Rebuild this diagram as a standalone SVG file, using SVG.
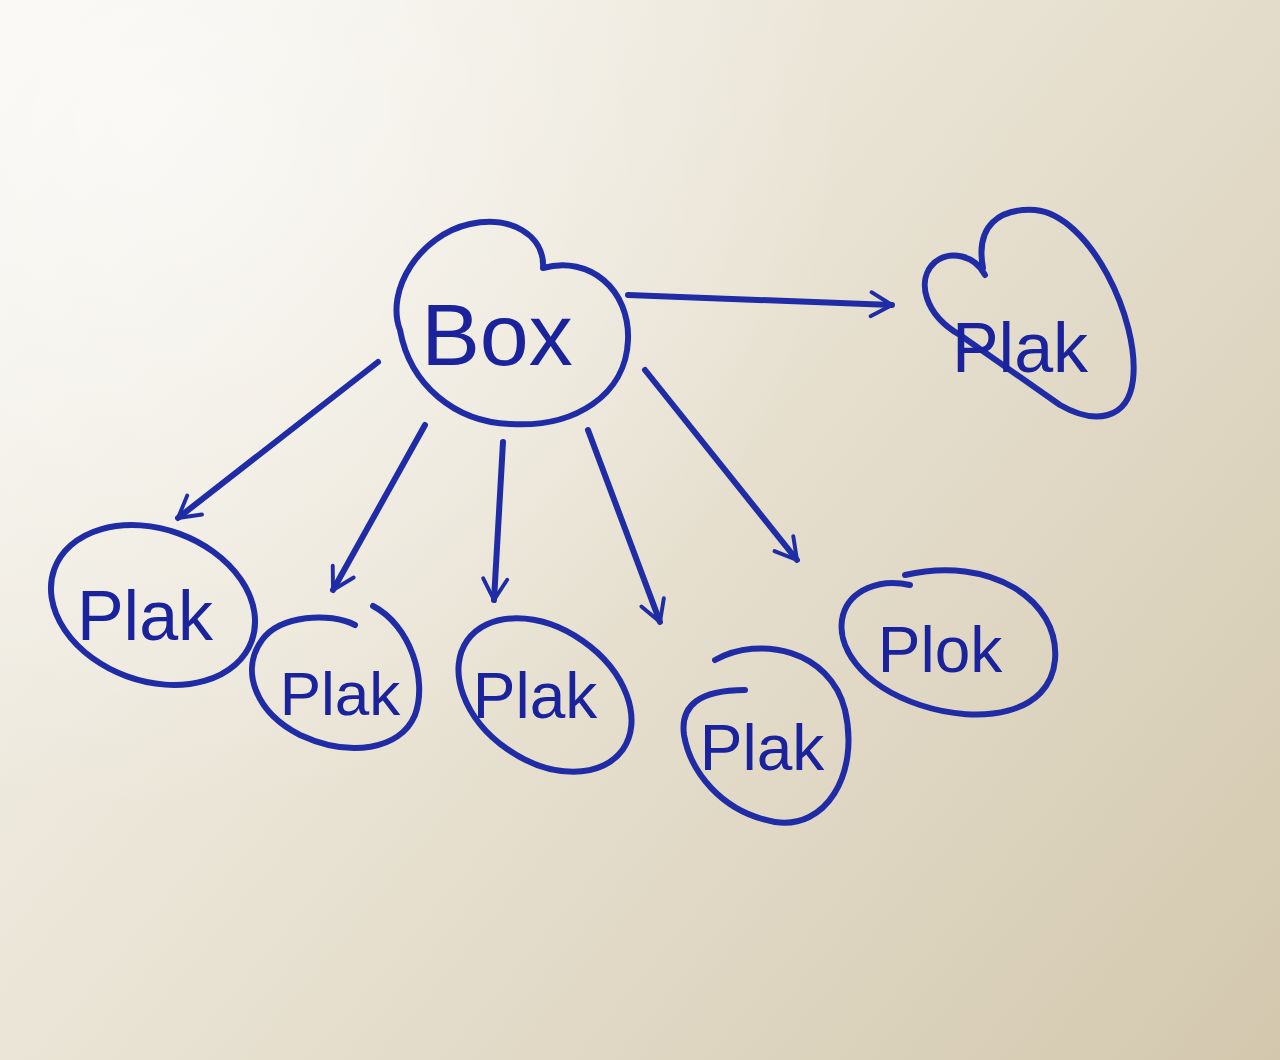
<svg xmlns="http://www.w3.org/2000/svg" width="1280" height="1060" viewBox="0 0 1280 1060">
<defs>
<linearGradient id="bg" x1="0" y1="0" x2="1280" y2="1060" gradientUnits="userSpaceOnUse">
<stop offset="0" stop-color="#f6f4ee"/>
<stop offset="0.45" stop-color="#e9e3d4"/>
<stop offset="1" stop-color="#d3c8ae"/>
</linearGradient>
<radialGradient id="glow" cx="150" cy="120" r="700" gradientUnits="userSpaceOnUse">
<stop offset="0" stop-color="#ffffff" stop-opacity="0.6"/>
<stop offset="1" stop-color="#ffffff" stop-opacity="0"/>
</radialGradient>
<marker id="chev" viewBox="0 0 20 20" refX="17" refY="10" markerWidth="30" markerHeight="30" markerUnits="userSpaceOnUse" orient="auto">
<path d="M3,2 L17,10 L3,18" fill="none" stroke="#1f2ca6" stroke-width="2.6" stroke-linecap="round" stroke-linejoin="round"/>
</marker>
</defs>
<style>
.ink{fill:none;stroke:#1f2ca6;stroke-width:6;stroke-linecap:round;stroke-linejoin:round}
.lbl{font-family:"Liberation Sans","DejaVu Sans",sans-serif;fill:#1a229c;text-anchor:middle}
</style>
<rect width="1280" height="1060" fill="url(#bg)"/>
<rect width="1280" height="1060" fill="url(#glow)"/>
<g id="connectors">
<path class="ink" d="M628,295 L892,305" marker-end="url(#chev)"/>
<path class="ink" d="M378,362 L178,518" marker-end="url(#chev)"/>
<path class="ink" d="M425,425 L333,590" marker-end="url(#chev)"/>
<path class="ink" d="M503,442 L494,600" marker-end="url(#chev)"/>
<path class="ink" d="M588,430 L660,622" marker-end="url(#chev)"/>
<path class="ink" d="M645,370 L797,560" marker-end="url(#chev)"/>
</g>
<g id="box">
<path class="ink" d="M400,330 C385,290 420,235 470,224 C510,215 545,235 543,268 C590,255 630,290 628,340 C626,395 575,428 510,424 C455,422 410,385 400,330 Z"/>
<text class="lbl" x="497" y="365" font-size="88">Box</text>
</g>
<g id="plak-top">
<path class="ink" d="M983,268 C975,225 1000,208 1035,210 C1090,215 1140,320 1133,380 C1128,420 1095,425 1060,405 L960,335 C925,315 915,280 935,262 C950,250 975,255 985,275"/>
<text class="lbl" x="1020" y="372" font-size="70">Plak</text>
</g>
<g id="plak-1">
<ellipse class="ink" cx="153" cy="605" rx="105" ry="76" transform="rotate(20 153 605)"/>
<text class="lbl" x="145" y="640" font-size="70">Plak</text>
</g>
<g id="plak-2">
<path class="ink" d="M373,606 C410,625 428,680 415,715 C400,750 350,758 300,735 C255,712 240,670 262,640 C280,615 330,612 355,625"/>
<text class="lbl" x="340" y="715" font-size="62">Plak</text>
</g>
<g id="plak-3">
<ellipse class="ink" cx="545" cy="695" rx="95" ry="66" transform="rotate(35 545 695)"/>
<text class="lbl" x="535" y="718" font-size="64">Plak</text>
</g>
<g id="plak-4">
<path class="ink" d="M715,660 C760,635 830,650 845,710 C860,775 825,830 775,822 C720,812 690,770 684,735 C680,705 700,690 745,690"/>
<text class="lbl" x="762" y="770" font-size="64">Plak</text>
</g>
<g id="plok">
<path class="ink" d="M905,575 C990,555 1060,600 1055,660 C1050,715 980,725 920,705 C860,685 835,645 843,615 C850,590 880,578 910,585"/>
<text class="lbl" x="940" y="672" font-size="64">Plok</text>
</g>
</svg>
